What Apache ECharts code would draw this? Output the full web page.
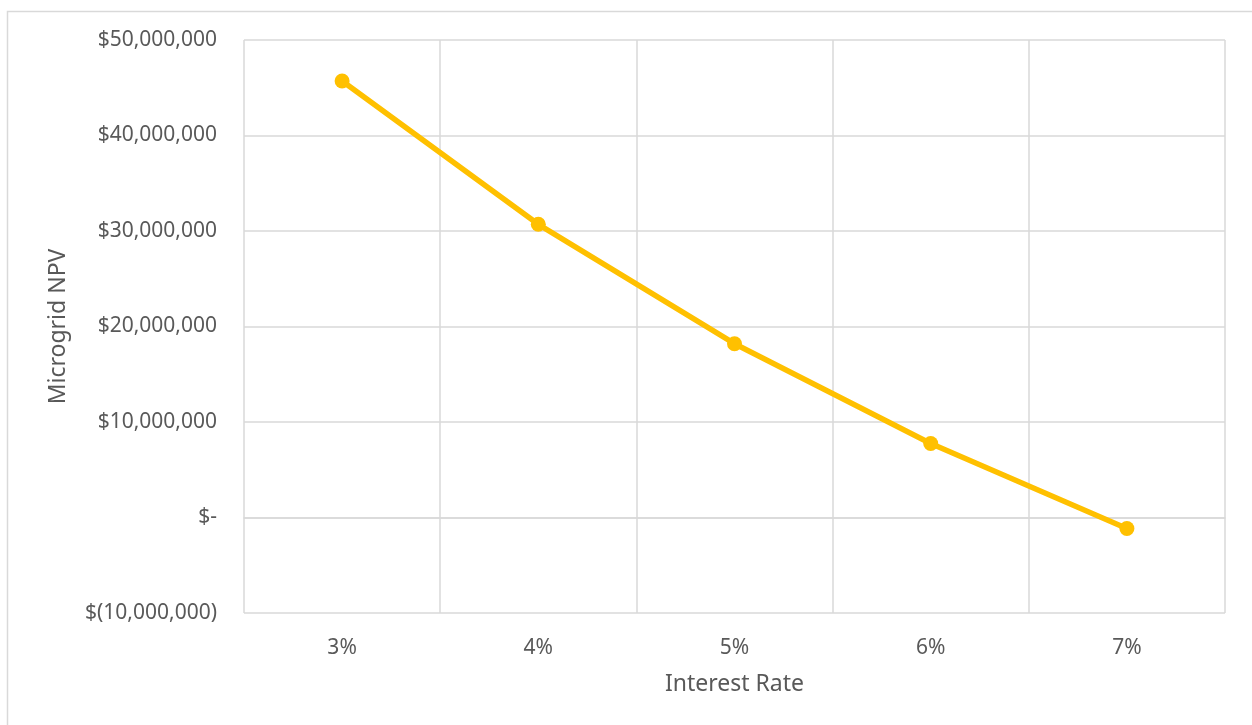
<!DOCTYPE html>
<html>
<head>
<meta charset="utf-8">
<script src="https://cdn.jsdelivr.net/npm/echarts@6/dist/echarts.min.js"></script>
<style>
  html, body { margin: 0; padding: 0; background: #fff; }
  #chart { width: 1252px; height: 725px; }
</style>
</head>
<body>
<div id="chart"></div>
<script>
// Microgrid NPV by interest rate
const rates = ['3%', '4%', '5%', '6%', '7%'];
const npv = [45700000, 30700000, 18200000, 7750000, -1150000];

const yMin = -10000000;
const yMax = 50000000;
const yStep = 10000000;

function money(v) {
  if (v === 0) return '$-';
  const s = Math.abs(v).toString().replace(/\B(?=(\d{3})+(?!\d))/g, ',');
  return v < 0 ? '$(' + s + ')' : '$' + s;
}

const font = '"Noto Sans", sans-serif';
const textColor = '#595959';
const gridColor = '#d9d9d9';

const chart = echarts.init(document.getElementById('chart'), null, { renderer: 'canvas' });
chart.setOption({
  animation: false,
  backgroundColor: '#fff',
  graphic: [{
    type: 'rect',
    left: 5, top: 9,
    shape: { width: 1400, height: 900 },
    style: { fill: 'none', stroke: gridColor, lineWidth: 1.5 },
    silent: true
  }],
  grid: { left: 244, right: 27, top: 40, bottom: 112, containLabel: false },
  xAxis: {
    type: 'category',
    data: rates,
    boundaryGap: true,
    name: 'Interest Rate',
    nameLocation: 'middle',
    nameGap: 60,
    nameTextStyle: { color: textColor, fontSize: 23, fontFamily: font },
    axisLine: { show: true, lineStyle: { color: gridColor, width: 1.5 } },
    axisTick: { show: false },
    axisLabel: { color: textColor, fontSize: 21, fontFamily: font, margin: 25 },
    splitLine: { show: true, lineStyle: { color: gridColor, width: 1.5 } }
  },
  yAxis: {
    type: 'value',
    min: yMin,
    max: yMax,
    interval: yStep,
    name: 'Microgrid NPV',
    nameLocation: 'middle',
    nameGap: 174,
    nameRotate: 90,
    nameTextStyle: { color: textColor, fontSize: 23, fontFamily: font },
    axisLine: { show: false },
    axisTick: { show: false },
    axisLabel: { color: textColor, fontSize: 21, fontFamily: font, margin: 27, formatter: money },
    splitLine: { show: true, lineStyle: { color: gridColor, width: 1.5 } }
  },
  series: [{
    type: 'line',
    data: npv,
    symbol: 'circle',
    symbolSize: 15,
    itemStyle: { color: '#ffc000' },
    lineStyle: { color: '#ffc000', width: 5.5 }
  }]
});
</script>
</body>
</html>
